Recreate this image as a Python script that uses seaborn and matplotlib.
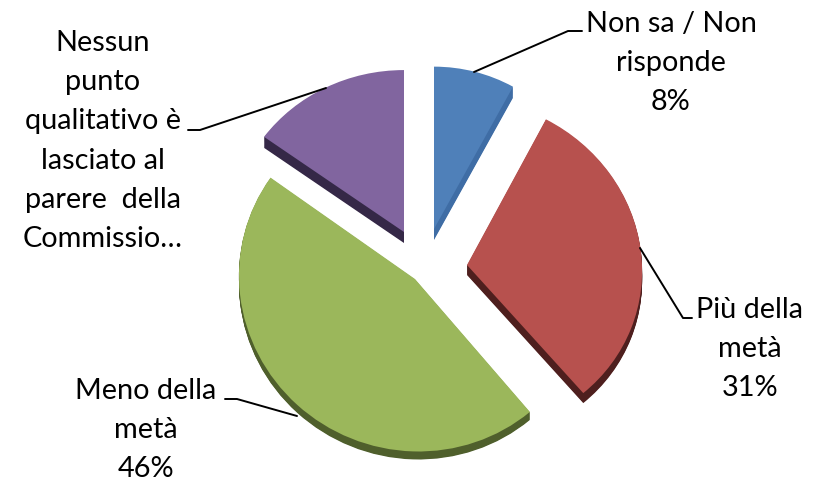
import matplotlib
matplotlib.use("Agg")
import matplotlib.pyplot as plt
from matplotlib.transforms import Affine2D
import seaborn as sns

categories = ["Non sa / Non\nrisponde\n8%", "Più della\nmetà\n31%", "Meno della\nmetà\n46%",
              "Nessun\npunto\nqualitativo è\nlasciato al\nparere  della\nCommissio…"]
values = [8, 31, 46, 15]
colors = ["#4f80b9", "#b7514e", "#9bb75b", "#81659f"]
dark = ["#3f6da5", "#4e1f1e", "#4f5f2c", "#352847"]

H = 482
# layout of the exploded slices, in pixels from the top left
apex = [(434, 229), (467, 265), (415, 279), (404, 232)]
yscale = [0.99, 0.95, 0.98, 0.936]
skew = [0.0, -0.035, -0.02, 0.0]
radius = [164, 175, 176, 173]
depth = [11, 10, 8, 11]

sns.set_theme(style="white")
plt.rcParams['font.family'] = ['Lato', 'DejaVu Sans']

fig = plt.figure(figsize=(8.23, 4.82), dpi=100)
ax = fig.add_axes([0, 0, 1, 1])


def draw(palette, lift):
    wedges, _ = ax.pie(values, colors=palette, startangle=90, counterclock=False,
                       frame=True, wedgeprops=dict(linewidth=0))
    for w, (px, py), sy, k, r, d in zip(wedges, apex, yscale, skew, radius, depth):
        w.set_center((0, 0))
        w.set_radius(r)
        off = d * lift
        tr = Affine2D.from_values(1, 0, k, sy, px, H - py - off)
        w.set_transform(tr + ax.transData)


for step in range(12, 0, -1):
    draw(dark, step / 12)
draw(colors, 0)

ax.set_xlim(0, 823)
ax.set_ylim(0, H)
ax.set_aspect("equal")
ax.axis("off")

kw = dict(ha="center", va="center", fontsize=20.8, color="black", linespacing=1.62)
ax.text(671, H - 63, categories[0], **kw)
ax.text(750, H - 349, categories[1], **kw)
ax.text(146, H - 430, categories[2], **kw)
ax.text(103, H - 141, categories[3], **kw)

lines = [([474, 568, 582], [72, 31, 31]),
         ([640, 683, 692], [248, 318, 318]),
         ([297, 237, 225], [416, 399, 399]),
         ([326, 200, 188], [88, 130, 130])]
for xs, ys in lines:
    ax.plot(xs, [H - y for y in ys], color="black", lw=1.4)
fig.savefig("out.png", dpi=100)
